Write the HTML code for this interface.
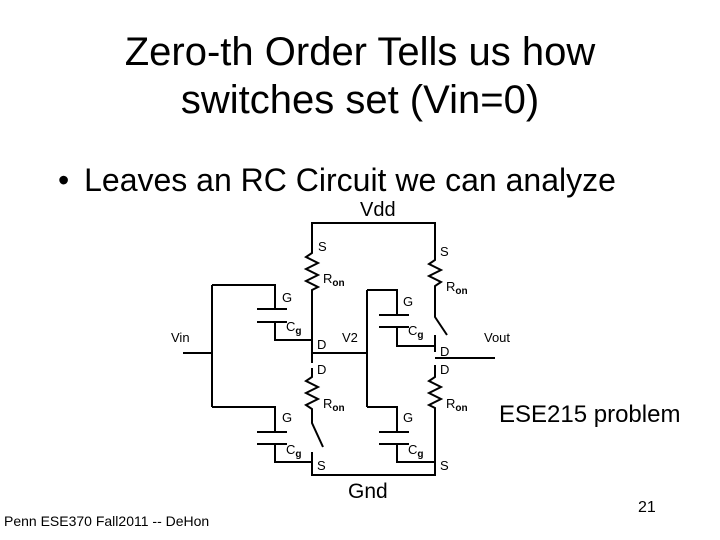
<!DOCTYPE html>
<html><head><style>
body{margin:0;width:720px;height:540px;background:#fff;position:relative;overflow:hidden;font-family:"Liberation Sans",Arial,sans-serif;color:#000}
.t{position:absolute;white-space:nowrap}
</style></head><body>
<div class="t" style="left:0;width:720px;text-align:center;top:28px;font-size:40px;line-height:48px">Zero-th Order Tells us how<br>switches set (Vin=0)</div>
<div class="t" style="left:58px;top:162px;font-size:32px">•&nbsp;<span style="margin-left:6px">Leaves an RC Circuit we can analyze</span></div>
<div class="t" style="left:360px;top:199px;font-size:20px">Vdd</div>
<div class="t" style="left:348px;top:480px;font-size:21px">Gnd</div>
<div class="t" style="left:499px;top:401px;font-size:24px">ESE215 problem</div>
<div class="t" style="left:4px;top:513px;font-size:14px">Penn ESE370 Fall2011 -- DeHon</div>
<div class="t" style="left:638px;top:499px;font-size:16px">21</div>
<svg width="720" height="540" style="position:absolute;left:0;top:0" font-family="Liberation Sans,Arial,sans-serif" font-size="13">
<g stroke="#000" stroke-width="2" fill="none">
<path d="M312,243V223H435V242"/>
<path d="M312,243V253l-6,4l12,6l-12,6l12,6l-12,6l12,6l-6,3V363"/>
<path d="M312,353H367"/>
<path d="M312,368V377l-6,4l12,6l-12,6l12,6l-12,6l6,4V423l11,24"/>
<path d="M312,452V475H435V412"/>
<path d="M435,242V260l-6,4l12,6l-12,6l12,6l-6,4l0,0V317l12,18"/>
<path d="M435,335V352M435,365V377l-6,4l12,6l-12,6l12,6l-12,6l6,3V412"/>
<path d="M435,358H495"/>
<path d="M183,353H212M212,285V407M212,285H275V309M257,309H287M257,322H287M275,322V340H312"/>
<path d="M212,407H275V432M257,432H287M257,444H287M275,444V462H312"/>
<path d="M367,290V407M367,290H397V315M379,315H409M379,327H409M397,327V346H435"/>
<path d="M367,407H397V432M379,432H409M379,444H409M397,444V462H435"/>
</g>
<g fill="#000">
<text x="318" y="251">S</text><text x="323" y="283">R<tspan font-size="10" font-weight="bold" dy="3">on</tspan></text>
<text x="282" y="302">G</text><text x="286" y="331">C<tspan font-size="10" font-weight="bold" dy="3">g</tspan></text>
<text x="317" y="349">D</text><text x="342" y="342">V2</text>
<text x="317" y="374">D</text><text x="323" y="408">R<tspan font-size="10" font-weight="bold" dy="3">on</tspan></text>
<text x="282" y="422">G</text><text x="286" y="454">C<tspan font-size="10" font-weight="bold" dy="3">g</tspan></text>
<text x="317" y="470">S</text>
<text x="440" y="256">S</text><text x="446" y="291">R<tspan font-size="10" font-weight="bold" dy="3">on</tspan></text>
<text x="403" y="306">G</text><text x="408" y="335">C<tspan font-size="10" font-weight="bold" dy="3">g</tspan></text>
<text x="440" y="356">D</text><text x="484" y="342">Vout</text>
<text x="440" y="374">D</text><text x="446" y="408">R<tspan font-size="10" font-weight="bold" dy="3">on</tspan></text>
<text x="403" y="422">G</text><text x="408" y="454">C<tspan font-size="10" font-weight="bold" dy="3">g</tspan></text>
<text x="440" y="470">S</text>
<text x="171" y="342">Vin</text>
</g>
</svg>
</body></html>
